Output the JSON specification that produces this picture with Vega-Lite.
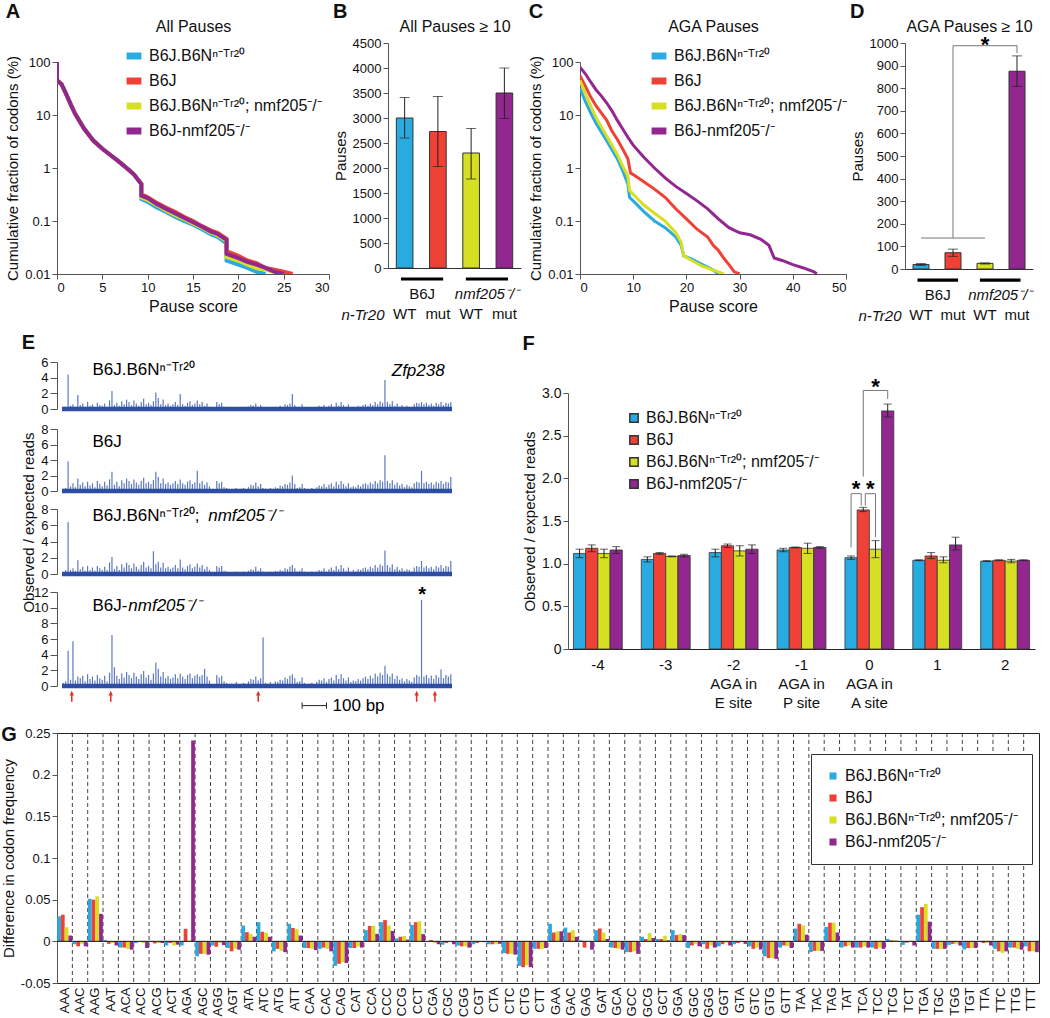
{
"$schema":"https://vega.github.io/schema/vega-lite/v6.json",
"background":"white",
"padding":{"left":0,"top":2,"right":0,"bottom":0},
"config":{"font":"Liberation Sans","view":{"stroke":null},
"axis":{"labelFontSize":13,"titleFontSize":15,"titleFontWeight":"normal","labelColor":"#111","titleColor":"#111","domainColor":"#555","tickColor":"#555","grid":false,"tickSize":5,"labelOverlap":false},
"title":{"fontWeight":"normal","fontSize":16,"color":"#111"},
"legend":{"labelFontSize":16,"labelColor":"#111","labelLimit":400}},
"datasets":{
"curvesA":[
{"g":"N","x":0,"y":100},{"g":"N","x":0,"y":45},{"g":"N","x":0.5,"y":38},{"g":"N","x":1,"y":25},{"g":"N","x":1.5,"y":16},{"g":"N","x":2,"y":10.5},{"g":"N","x":3,"y":5.5},{"g":"N","x":4,"y":3.3},{"g":"N","x":5,"y":2.3},{"g":"N","x":6,"y":1.7},{"g":"N","x":7,"y":1.25},{"g":"N","x":8,"y":0.9},{"g":"N","x":8.5,"y":0.75},{"g":"N","x":9.3,"y":0.5},{"g":"N","x":9.3,"y":0.26},{"g":"N","x":10,"y":0.23},{"g":"N","x":11,"y":0.18},{"g":"N","x":12,"y":0.15},{"g":"N","x":13,"y":0.12},{"g":"N","x":14,"y":0.1},{"g":"N","x":15,"y":0.085},{"g":"N","x":16,"y":0.07},{"g":"N","x":17,"y":0.056},{"g":"N","x":17.7,"y":0.05},{"g":"N","x":18.7,"y":0.038},{"g":"N","x":18.7,"y":0.018},{"g":"N","x":20,"y":0.015},{"g":"N","x":21,"y":0.013},{"g":"N","x":22,"y":0.011},{"g":"N","x":23,"y":0.01},
{"g":"J","x":0,"y":100},{"g":"J","x":0,"y":45},{"g":"J","x":0.5,"y":38},{"g":"J","x":1,"y":25},{"g":"J","x":1.5,"y":16},{"g":"J","x":2,"y":10.5},{"g":"J","x":3,"y":5.5},{"g":"J","x":4,"y":3.3},{"g":"J","x":5,"y":2.3},{"g":"J","x":6,"y":1.7},{"g":"J","x":7,"y":1.25},{"g":"J","x":8,"y":0.9},{"g":"J","x":8.5,"y":0.75},{"g":"J","x":9.3,"y":0.5},{"g":"J","x":9.3,"y":0.32},{"g":"J","x":10,"y":0.28},{"g":"J","x":11,"y":0.22},{"g":"J","x":12,"y":0.18},{"g":"J","x":13,"y":0.15},{"g":"J","x":14,"y":0.12},{"g":"J","x":15,"y":0.1},{"g":"J","x":16,"y":0.08},{"g":"J","x":17,"y":0.066},{"g":"J","x":17.7,"y":0.06},{"g":"J","x":18.7,"y":0.046},{"g":"J","x":18.7,"y":0.027},{"g":"J","x":20,"y":0.022},{"g":"J","x":21,"y":0.018},{"g":"J","x":22,"y":0.016},{"g":"J","x":23,"y":0.013},{"g":"J","x":24,"y":0.012},{"g":"J","x":25,"y":0.011},{"g":"J","x":26,"y":0.01},
{"g":"Nn","x":0,"y":100},{"g":"Nn","x":0,"y":45},{"g":"Nn","x":0.5,"y":38},{"g":"Nn","x":1,"y":25},{"g":"Nn","x":1.5,"y":16},{"g":"Nn","x":2,"y":10.5},{"g":"Nn","x":3,"y":5.5},{"g":"Nn","x":4,"y":3.3},{"g":"Nn","x":5,"y":2.3},{"g":"Nn","x":6,"y":1.7},{"g":"Nn","x":7,"y":1.25},{"g":"Nn","x":8,"y":0.9},{"g":"Nn","x":8.5,"y":0.75},{"g":"Nn","x":9.3,"y":0.5},{"g":"Nn","x":9.3,"y":0.28},{"g":"Nn","x":10,"y":0.25},{"g":"Nn","x":11,"y":0.2},{"g":"Nn","x":12,"y":0.16},{"g":"Nn","x":13,"y":0.13},{"g":"Nn","x":14,"y":0.11},{"g":"Nn","x":15,"y":0.09},{"g":"Nn","x":16,"y":0.075},{"g":"Nn","x":17,"y":0.06},{"g":"Nn","x":17.7,"y":0.054},{"g":"Nn","x":18.7,"y":0.042},{"g":"Nn","x":18.7,"y":0.021},{"g":"Nn","x":20,"y":0.018},{"g":"Nn","x":21,"y":0.015},{"g":"Nn","x":22,"y":0.013},{"g":"Nn","x":23,"y":0.012},{"g":"Nn","x":24,"y":0.011},{"g":"Nn","x":24.5,"y":0.01},
{"g":"Jn","x":0,"y":100},{"g":"Jn","x":0,"y":45},{"g":"Jn","x":0.5,"y":38},{"g":"Jn","x":1,"y":25},{"g":"Jn","x":1.5,"y":16},{"g":"Jn","x":2,"y":10.5},{"g":"Jn","x":3,"y":5.5},{"g":"Jn","x":4,"y":3.3},{"g":"Jn","x":5,"y":2.3},{"g":"Jn","x":6,"y":1.7},{"g":"Jn","x":7,"y":1.25},{"g":"Jn","x":8,"y":0.9},{"g":"Jn","x":8.5,"y":0.75},{"g":"Jn","x":9.3,"y":0.5},{"g":"Jn","x":9.3,"y":0.3},{"g":"Jn","x":10,"y":0.27},{"g":"Jn","x":11,"y":0.21},{"g":"Jn","x":12,"y":0.17},{"g":"Jn","x":13,"y":0.14},{"g":"Jn","x":14,"y":0.115},{"g":"Jn","x":15,"y":0.095},{"g":"Jn","x":16,"y":0.078},{"g":"Jn","x":17,"y":0.063},{"g":"Jn","x":17.7,"y":0.057},{"g":"Jn","x":18.7,"y":0.044},{"g":"Jn","x":18.7,"y":0.024},{"g":"Jn","x":20,"y":0.02},{"g":"Jn","x":21,"y":0.017},{"g":"Jn","x":22,"y":0.015},{"g":"Jn","x":23,"y":0.013},{"g":"Jn","x":24,"y":0.011},{"g":"Jn","x":25,"y":0.01}],
"curvesC":[
{"g":"N","x":0,"y":32},{"g":"N","x":1,"y":18},{"g":"N","x":2,"y":11},{"g":"N","x":3,"y":7},{"g":"N","x":4,"y":4.8},{"g":"N","x":5,"y":3.3},{"g":"N","x":6,"y":2.2},{"g":"N","x":7,"y":1.5},{"g":"N","x":8,"y":0.9},{"g":"N","x":9,"y":0.5},{"g":"N","x":9.3,"y":0.28},{"g":"N","x":10,"y":0.24},{"g":"N","x":12,"y":0.15},{"g":"N","x":14,"y":0.1},{"g":"N","x":16,"y":0.075},{"g":"N","x":18,"y":0.05},{"g":"N","x":19,"y":0.035},{"g":"N","x":19.5,"y":0.022},{"g":"N","x":21,"y":0.019},{"g":"N","x":23,"y":0.015},{"g":"N","x":25,"y":0.012},{"g":"N","x":26,"y":0.01},
{"g":"J","x":0,"y":55},{"g":"J","x":1,"y":35},{"g":"J","x":2,"y":22},{"g":"J","x":3,"y":15},{"g":"J","x":4,"y":11},{"g":"J","x":5,"y":8},{"g":"J","x":6,"y":5},{"g":"J","x":7,"y":3.5},{"g":"J","x":8,"y":2.3},{"g":"J","x":9,"y":1.5},{"g":"J","x":9.5,"y":0.8},{"g":"J","x":10,"y":0.75},{"g":"J","x":12,"y":0.55},{"g":"J","x":14,"y":0.4},{"g":"J","x":16,"y":0.28},{"g":"J","x":18,"y":0.17},{"g":"J","x":20,"y":0.11},{"g":"J","x":22,"y":0.07},{"g":"J","x":24,"y":0.05},{"g":"J","x":25,"y":0.035},{"g":"J","x":26,"y":0.028},{"g":"J","x":27,"y":0.02},{"g":"J","x":28,"y":0.015},{"g":"J","x":29,"y":0.011},{"g":"J","x":30,"y":0.01},
{"g":"Nn","x":0,"y":45},{"g":"Nn","x":1,"y":25},{"g":"Nn","x":2,"y":15},{"g":"Nn","x":3,"y":9},{"g":"Nn","x":4,"y":6},{"g":"Nn","x":5,"y":4},{"g":"Nn","x":6,"y":2.7},{"g":"Nn","x":7,"y":1.8},{"g":"Nn","x":8,"y":1.1},{"g":"Nn","x":9,"y":0.7},{"g":"Nn","x":9.3,"y":0.38},{"g":"Nn","x":10,"y":0.32},{"g":"Nn","x":12,"y":0.2},{"g":"Nn","x":14,"y":0.14},{"g":"Nn","x":16,"y":0.1},{"g":"Nn","x":18,"y":0.06},{"g":"Nn","x":19,"y":0.04},{"g":"Nn","x":19.5,"y":0.022},{"g":"Nn","x":21,"y":0.018},{"g":"Nn","x":23,"y":0.014},{"g":"Nn","x":25,"y":0.012},{"g":"Nn","x":27,"y":0.01},
{"g":"Jn","x":0,"y":80},{"g":"Jn","x":1,"y":60},{"g":"Jn","x":2,"y":42},{"g":"Jn","x":3,"y":30},{"g":"Jn","x":4,"y":23},{"g":"Jn","x":5,"y":17},{"g":"Jn","x":6,"y":12},{"g":"Jn","x":7,"y":8},{"g":"Jn","x":8,"y":5.5},{"g":"Jn","x":9,"y":3.8},{"g":"Jn","x":10,"y":2.7},{"g":"Jn","x":12,"y":1.6},{"g":"Jn","x":14,"y":1},{"g":"Jn","x":16,"y":0.65},{"g":"Jn","x":18,"y":0.45},{"g":"Jn","x":20,"y":0.33},{"g":"Jn","x":22,"y":0.24},{"g":"Jn","x":24,"y":0.17},{"g":"Jn","x":26,"y":0.11},{"g":"Jn","x":28,"y":0.075},{"g":"Jn","x":30,"y":0.06},{"g":"Jn","x":32,"y":0.055},{"g":"Jn","x":34,"y":0.045},{"g":"Jn","x":35.5,"y":0.035},{"g":"Jn","x":36.5,"y":0.02},{"g":"Jn","x":38,"y":0.018},{"g":"Jn","x":40,"y":0.015},{"g":"Jn","x":42,"y":0.013},{"g":"Jn","x":44,"y":0.011},{"g":"Jn","x":44.5,"y":0.01}],
"pausesB":[{"g":"N","v":3000,"lo":2600,"hi":3410},{"g":"J","v":2730,"lo":2030,"hi":3430},{"g":"Nn","v":2300,"lo":1780,"hi":2790},{"g":"Jn","v":3500,"lo":2990,"hi":4000}],
"pausesD":[{"g":"N","v":20,"lo":16,"hi":24},{"g":"J","v":72,"lo":56,"hi":88},{"g":"Nn","v":25,"lo":22,"hi":27},{"g":"Jn","v":875,"lo":808,"hi":943}],
"bracketD":[{"g":"N","g2":"Nn","y":137,"y2":137},{"g":"J","g2":"J","y":137,"y2":988},{"g":"J","g2":"Jn","y":988,"y2":988},{"g":"Jn","g2":"Jn","y":955,"y2":988}],
"fdata":[
{"pos":"-4","g":"N","v":1.12,"lo":1.07,"hi":1.17},{"pos":"-4","g":"J","v":1.18,"lo":1.14,"hi":1.22},{"pos":"-4","g":"Nn","v":1.12,"lo":1.07,"hi":1.17},{"pos":"-4","g":"Jn","v":1.16,"lo":1.12,"hi":1.2},
{"pos":"-3","g":"N","v":1.05,"lo":1.02,"hi":1.08},{"pos":"-3","g":"J","v":1.12,"lo":1.11,"hi":1.13},{"pos":"-3","g":"Nn","v":1.085,"lo":1.08,"hi":1.09},{"pos":"-3","g":"Jn","v":1.095,"lo":1.08,"hi":1.11},
{"pos":"-2","g":"N","v":1.13,"lo":1.08,"hi":1.17},{"pos":"-2","g":"J","v":1.21,"lo":1.19,"hi":1.23},{"pos":"-2","g":"Nn","v":1.15,"lo":1.09,"hi":1.21},{"pos":"-2","g":"Jn","v":1.17,"lo":1.12,"hi":1.22},
{"pos":"-1","g":"N","v":1.16,"lo":1.14,"hi":1.18},{"pos":"-1","g":"J","v":1.19,"lo":1.185,"hi":1.195},{"pos":"-1","g":"Nn","v":1.18,"lo":1.12,"hi":1.24},{"pos":"-1","g":"Jn","v":1.19,"lo":1.18,"hi":1.2},
{"pos":"0","g":"N","v":1.07,"lo":1.05,"hi":1.09},{"pos":"0","g":"J","v":1.63,"lo":1.61,"hi":1.66},{"pos":"0","g":"Nn","v":1.17,"lo":1.07,"hi":1.27},{"pos":"0","g":"Jn","v":2.79,"lo":2.72,"hi":2.87},
{"pos":"1","g":"N","v":1.04,"lo":1.035,"hi":1.045},{"pos":"1","g":"J","v":1.09,"lo":1.06,"hi":1.13},{"pos":"1","g":"Nn","v":1.04,"lo":1.01,"hi":1.08},{"pos":"1","g":"Jn","v":1.22,"lo":1.16,"hi":1.31},
{"pos":"2","g":"N","v":1.03,"lo":1.025,"hi":1.035},{"pos":"2","g":"J","v":1.04,"lo":1.035,"hi":1.045},{"pos":"2","g":"Nn","v":1.03,"lo":1.01,"hi":1.05},{"pos":"2","g":"Jn","v":1.04,"lo":1.035,"hi":1.045}],
"bracketF":[
{"kind":"line","x":4.17,"x2":4.17,"y":1.19,"y2":1.82},{"kind":"line","x":4.17,"x2":4.32,"y":1.82,"y2":1.82},{"kind":"line","x":4.32,"x2":4.32,"y":1.68,"y2":1.82},
{"kind":"line","x":4.38,"x2":4.38,"y":1.68,"y2":1.82},{"kind":"line","x":4.38,"x2":4.53,"y":1.82,"y2":1.82},{"kind":"line","x":4.53,"x2":4.53,"y":1.31,"y2":1.82},
{"kind":"line","x":4.35,"x2":4.35,"y":2.02,"y2":3.03},{"kind":"line","x":4.35,"x2":4.71,"y":3.03,"y2":3.03},{"kind":"line","x":4.71,"x2":4.71,"y":2.93,"y2":3.03},
{"kind":"star","x":4.245,"y":1.79},{"kind":"star","x":4.455,"y":1.79},{"kind":"star","x":4.53,"y":2.99}],
"tracks":[
{"p":5,"a":0.2,"b":0.3,"c":0.2,"d":0.4},{"p":15,"a":0.3,"b":0.4,"c":0.5,"d":0.6},{"p":25,"a":4.4,"b":3.8,"c":6.4,"d":4.5},{"p":35,"a":0.4,"b":0.6,"c":0.5,"d":0.8},{"p":45,"a":0.6,"b":1.0,"c":0.7,"d":5.7},{"p":55,"a":0.3,"b":0.5,"c":0.4,"d":0.7},{"p":65,"a":1.8,"b":1.6,"c":1.7,"d":1.2},{"p":75,"a":0.5,"b":0.8,"c":0.6,"d":1.0},{"p":85,"a":0.7,"b":1.1,"c":0.9,"d":1.3},{"p":95,"a":0.3,"b":0.6,"c":0.4,"d":0.6},
{"p":105,"a":0.9,"b":1.2,"c":1.0,"d":1.5},{"p":115,"a":0.4,"b":0.7,"c":0.5,"d":0.9},{"p":125,"a":0.6,"b":1.0,"c":0.8,"d":1.2},{"p":135,"a":0.3,"b":0.5,"c":0.4,"d":0.7},{"p":145,"a":0.8,"b":1.3,"c":1.0,"d":1.4},{"p":155,"a":0.5,"b":0.9,"c":0.7,"d":1.0},{"p":165,"a":0.4,"b":0.6,"c":0.5,"d":0.8},{"p":175,"a":0.7,"b":1.2,"c":0.9,"d":1.3},{"p":185,"a":0.3,"b":0.7,"c":0.5,"d":0.6},{"p":195,"a":1.1,"b":1.5,"c":1.4,"d":1.7},
{"p":205,"a":2.3,"b":2.5,"c":2.1,"d":6.5},{"p":215,"a":0.5,"b":0.8,"c":0.6,"d":2.4},{"p":225,"a":0.8,"b":1.2,"c":1.0,"d":1.3},{"p":235,"a":0.4,"b":0.6,"c":0.5,"d":0.9},{"p":245,"a":1.0,"b":1.4,"c":1.2,"d":1.6},{"p":255,"a":0.6,"b":1.0,"c":0.8,"d":1.1},{"p":265,"a":1.2,"b":1.6,"c":1.4,"d":1.8},{"p":275,"a":0.9,"b":1.3,"c":1.1,"d":1.4},{"p":285,"a":0.5,"b":0.9,"c":0.7,"d":1.0},{"p":295,"a":1.1,"b":1.5,"c":1.3,"d":1.7},
{"p":305,"a":0.7,"b":1.1,"c":0.9,"d":1.2},{"p":315,"a":0.4,"b":0.8,"c":0.6,"d":0.9},{"p":325,"a":0.9,"b":1.3,"c":1.1,"d":1.5},{"p":335,"a":1.3,"b":1.7,"c":1.5,"d":1.9},{"p":345,"a":0.6,"b":1.0,"c":0.8,"d":1.1},{"p":355,"a":0.8,"b":1.2,"c":1.0,"d":1.4},{"p":365,"a":0.5,"b":0.9,"c":0.7,"d":0.8},{"p":375,"a":1.0,"b":1.4,"c":2.8,"d":1.6},{"p":385,"a":2.1,"b":2.5,"c":1.2,"d":3.0},{"p":395,"a":1.4,"b":1.8,"c":1.5,"d":2.2},
{"p":405,"a":0.6,"b":1.0,"c":0.8,"d":1.2},{"p":415,"a":1.2,"b":1.6,"c":1.4,"d":1.8},{"p":425,"a":0.5,"b":0.9,"c":0.7,"d":1.0},{"p":435,"a":0.7,"b":1.1,"c":0.9,"d":1.3},{"p":445,"a":0.4,"b":0.8,"c":0.6,"d":0.9},{"p":455,"a":0.6,"b":1.0,"c":0.8,"d":1.1},{"p":465,"a":0.9,"b":1.3,"c":1.1,"d":1.5},{"p":475,"a":0.5,"b":0.9,"c":0.7,"d":1.0},{"p":485,"a":1.9,"b":1.5,"c":1.8,"d":1.6},{"p":495,"a":0.6,"b":1.0,"c":0.8,"d":1.2},
{"p":505,"a":0.4,"b":0.8,"c":0.6,"d":0.9},{"p":515,"a":0.8,"b":1.2,"c":1.0,"d":1.4},{"p":525,"a":1.0,"b":1.4,"c":1.2,"d":1.6},{"p":535,"a":0.5,"b":0.9,"c":0.7,"d":1.0},{"p":545,"a":0.7,"b":1.1,"c":0.9,"d":1.3},{"p":555,"a":1.1,"b":2.6,"c":1.3,"d":1.5},{"p":565,"a":0.6,"b":1.0,"c":0.8,"d":1.2},{"p":575,"a":0.9,"b":1.3,"c":1.1,"d":1.4},{"p":585,"a":0.4,"b":0.8,"c":0.6,"d":2.2},{"p":595,"a":0.7,"b":1.1,"c":0.9,"d":1.2},
{"p":605,"a":0.3,"b":0.6,"c":0.5,"d":0.7},{"p":615,"a":0.1,"b":0.2,"c":0.1,"d":0.2},{"p":625,"a":0.1,"b":0.2,"c":0.1,"d":0.2},{"p":635,"a":0.9,"b":1.3,"c":1.0,"d":1.4},{"p":645,"a":0.6,"b":1.0,"c":0.8,"d":1.1},{"p":655,"a":0.8,"b":1.2,"c":1.0,"d":1.3},{"p":665,"a":0.3,"b":0.5,"c":0.4,"d":0.6},{"p":675,"a":0.2,"b":0.4,"c":0.3,"d":0.4},{"p":685,"a":0.1,"b":0.2,"c":0.1,"d":0.2},{"p":695,"a":0.1,"b":0.2,"c":0.2,"d":0.3},
{"p":705,"a":0.1,"b":0.3,"c":0.2,"d":0.2},{"p":715,"a":0.2,"b":0.4,"c":0.3,"d":0.5},{"p":725,"a":0.1,"b":0.2,"c":0.1,"d":0.2},{"p":735,"a":0.1,"b":0.3,"c":0.2,"d":0.3},{"p":745,"a":0.2,"b":0.4,"c":0.3,"d":0.4},{"p":755,"a":0.1,"b":0.2,"c":0.2,"d":0.3},{"p":765,"a":0.3,"b":0.5,"c":0.4,"d":0.6},{"p":775,"a":0.5,"b":0.8,"c":0.6,"d":0.9},{"p":785,"a":0.4,"b":0.7,"c":0.5,"d":0.8},{"p":795,"a":0.7,"b":1.1,"c":0.9,"d":1.2},
{"p":805,"a":0.3,"b":0.6,"c":0.4,"d":0.7},{"p":815,"a":0.5,"b":0.9,"c":0.7,"d":1.0},{"p":825,"a":0.2,"b":0.4,"c":0.3,"d":6.2},{"p":835,"a":0.1,"b":0.3,"c":0.2,"d":0.4},{"p":845,"a":0.1,"b":0.2,"c":0.1,"d":0.3},{"p":855,"a":0.2,"b":0.4,"c":0.3,"d":0.5},{"p":865,"a":0.1,"b":0.2,"c":0.2,"d":0.3},{"p":875,"a":0.3,"b":0.5,"c":0.4,"d":0.6},{"p":885,"a":0.2,"b":0.4,"c":0.3,"d":0.5},{"p":895,"a":0.4,"b":0.7,"c":0.5,"d":0.8},
{"p":905,"a":0.3,"b":0.6,"c":0.4,"d":0.7},{"p":915,"a":0.6,"b":0.9,"c":0.7,"d":1.1},{"p":925,"a":0.5,"b":0.8,"c":0.6,"d":0.9},{"p":935,"a":0.7,"b":1.1,"c":0.9,"d":1.3},{"p":945,"a":1.9,"b":2.0,"c":1.1,"d":1.5},{"p":955,"a":0.5,"b":0.9,"c":0.7,"d":1.0},{"p":965,"a":0.2,"b":0.4,"c":0.3,"d":0.5},{"p":975,"a":0.3,"b":0.5,"c":0.4,"d":0.6},{"p":985,"a":0.6,"b":0.9,"c":0.7,"d":1.1},{"p":995,"a":0.2,"b":0.4,"c":0.3,"d":0.4},
{"p":1005,"a":0.1,"b":0.2,"c":0.1,"d":0.2},{"p":1015,"a":0.1,"b":0.2,"c":0.2,"d":0.3},{"p":1025,"a":0.2,"b":0.4,"c":0.3,"d":0.4},{"p":1035,"a":0.1,"b":0.2,"c":0.1,"d":0.2},{"p":1045,"a":0.2,"b":0.5,"c":0.3,"d":0.5},{"p":1055,"a":0.4,"b":0.7,"c":0.5,"d":0.8},{"p":1065,"a":0.3,"b":0.6,"c":0.4,"d":0.7},{"p":1075,"a":0.5,"b":0.9,"c":0.7,"d":1.0},{"p":1085,"a":0.2,"b":0.5,"c":0.3,"d":0.5},{"p":1095,"a":0.4,"b":0.8,"c":0.6,"d":0.9},
{"p":1105,"a":0.6,"b":1.0,"c":0.8,"d":1.1},{"p":1115,"a":0.3,"b":0.6,"c":0.5,"d":0.7},{"p":1125,"a":0.8,"b":1.2,"c":1.0,"d":1.4},{"p":1135,"a":0.4,"b":0.8,"c":0.6,"d":0.9},{"p":1145,"a":0.9,"b":1.3,"c":1.1,"d":1.5},{"p":1155,"a":0.5,"b":0.9,"c":0.7,"d":1.0},{"p":1165,"a":0.3,"b":0.6,"c":0.4,"d":0.7},{"p":1175,"a":0.6,"b":1.0,"c":0.8,"d":1.1},{"p":1185,"a":0.2,"b":0.5,"c":0.3,"d":0.5},{"p":1195,"a":0.3,"b":0.6,"c":0.5,"d":0.7},
{"p":1205,"a":0.2,"b":0.5,"c":0.3,"d":0.6},{"p":1215,"a":0.4,"b":0.8,"c":0.6,"d":0.9},{"p":1225,"a":0.3,"b":0.6,"c":0.5,"d":0.7},{"p":1235,"a":0.5,"b":0.9,"c":0.7,"d":1.0},{"p":1245,"a":0.6,"b":1.0,"c":0.8,"d":1.2},{"p":1255,"a":0.4,"b":0.8,"c":0.6,"d":0.9},{"p":1265,"a":0.7,"b":1.1,"c":0.9,"d":1.3},{"p":1275,"a":0.5,"b":0.9,"c":0.7,"d":1.0},{"p":1285,"a":0.9,"b":1.3,"c":1.1,"d":1.6},{"p":1295,"a":0.6,"b":1.0,"c":0.8,"d":1.2},
{"p":1305,"a":1.0,"b":1.4,"c":1.2,"d":1.7},{"p":1315,"a":0.8,"b":1.2,"c":1.0,"d":1.4},{"p":1325,"a":3.7,"b":4.6,"c":2.9,"d":2.6},{"p":1335,"a":0.9,"b":1.3,"c":1.1,"d":1.5},{"p":1345,"a":0.6,"b":1.0,"c":0.8,"d":1.2},{"p":1355,"a":1.0,"b":1.4,"c":1.2,"d":1.6},{"p":1365,"a":0.4,"b":0.8,"c":0.6,"d":0.9},{"p":1375,"a":0.7,"b":1.1,"c":0.9,"d":1.3},{"p":1385,"a":0.3,"b":0.7,"c":0.5,"d":0.8},{"p":1395,"a":0.5,"b":0.9,"c":0.7,"d":1.0},
{"p":1405,"a":0.2,"b":0.5,"c":0.4,"d":0.6},{"p":1415,"a":0.4,"b":0.8,"c":0.6,"d":0.9},{"p":1425,"a":0.3,"b":0.6,"c":0.5,"d":0.7},{"p":1435,"a":0.2,"b":0.5,"c":0.3,"d":0.5},{"p":1445,"a":0.6,"b":1.0,"c":0.8,"d":1.1},{"p":1455,"a":0.8,"b":1.2,"c":1.0,"d":1.4},{"p":1465,"a":0.7,"b":1.1,"c":0.9,"d":1.2},{"p":1475,"a":0.9,"b":2.6,"c":1.6,"d":11.0},{"p":1485,"a":0.6,"b":1.0,"c":0.8,"d":1.2},{"p":1495,"a":0.8,"b":1.2,"c":1.0,"d":1.4},
{"p":1505,"a":0.5,"b":0.9,"c":0.7,"d":1.0},{"p":1515,"a":0.7,"b":1.1,"c":0.9,"d":1.3},{"p":1525,"a":0.4,"b":0.8,"c":0.6,"d":0.9},{"p":1535,"a":0.8,"b":1.2,"c":1.0,"d":1.4},{"p":1545,"a":0.6,"b":1.0,"c":0.8,"d":1.1},{"p":1555,"a":0.9,"b":1.3,"c":1.1,"d":2.1},{"p":1565,"a":0.5,"b":0.9,"c":0.7,"d":1.0},{"p":1575,"a":0.8,"b":1.2,"c":1.0,"d":1.4},{"p":1585,"a":0.7,"b":1.1,"c":0.9,"d":1.2},{"p":1595,"a":0.9,"b":1.8,"c":1.6,"d":1.5}],
"gdata":[
{"c":"AAA","g":"N","v":0.03},{"c":"AAA","g":"J","v":0.032},{"c":"AAA","g":"Nn","v":0.017},{"c":"AAA","g":"Jn","v":0.007},
{"c":"AAC","g":"N","v":-0.0035},{"c":"AAC","g":"J","v":-0.006},{"c":"AAC","g":"Nn","v":-0.003},{"c":"AAC","g":"Jn","v":-0.006},
{"c":"AAG","g":"N","v":0.051},{"c":"AAG","g":"J","v":0.05},{"c":"AAG","g":"Nn","v":0.054},{"c":"AAG","g":"Jn","v":0.033},
{"c":"AAT","g":"N","v":0.0015},{"c":"AAT","g":"J","v":-0.003},{"c":"AAT","g":"Nn","v":-0.002},{"c":"AAT","g":"Jn","v":-0.005},
{"c":"ACA","g":"N","v":-0.0075},{"c":"ACA","g":"J","v":-0.0075},{"c":"ACA","g":"Nn","v":-0.009},{"c":"ACA","g":"Jn","v":-0.01},
{"c":"ACC","g":"N","v":-0.002},{"c":"ACC","g":"J","v":0.0003},{"c":"ACC","g":"Nn","v":-0.002},{"c":"ACC","g":"Jn","v":-0.008},
{"c":"ACG","g":"N","v":-0.001},{"c":"ACG","g":"J","v":-0.0025},{"c":"ACG","g":"Nn","v":-0.002},{"c":"ACG","g":"Jn","v":-0.002},
{"c":"ACT","g":"N","v":-0.005},{"c":"ACT","g":"J","v":-0.002},{"c":"ACT","g":"Nn","v":-0.005},{"c":"ACT","g":"Jn","v":-0.004},
{"c":"AGA","g":"N","v":-0.005},{"c":"AGA","g":"J","v":0.015},{"c":"AGA","g":"Nn","v":0.001},{"c":"AGA","g":"Jn","v":0.241},
{"c":"AGC","g":"N","v":-0.018},{"c":"AGC","g":"J","v":-0.015},{"c":"AGC","g":"Nn","v":-0.015},{"c":"AGC","g":"Jn","v":-0.016},
{"c":"AGG","g":"N","v":-0.005},{"c":"AGG","g":"J","v":-0.0065},{"c":"AGG","g":"Nn","v":-0.002},{"c":"AGG","g":"Jn","v":-0.0045},
{"c":"AGT","g":"N","v":-0.008},{"c":"AGT","g":"J","v":-0.012},{"c":"AGT","g":"Nn","v":-0.009},{"c":"AGT","g":"Jn","v":-0.01},
{"c":"ATA","g":"N","v":0.019},{"c":"ATA","g":"J","v":0.011},{"c":"ATA","g":"Nn","v":0.009},{"c":"ATA","g":"Jn","v":0.0055},
{"c":"ATC","g":"N","v":0.023},{"c":"ATC","g":"J","v":0.0115},{"c":"ATC","g":"Nn","v":0.0105},{"c":"ATC","g":"Jn","v":0.0055},
{"c":"ATG","g":"N","v":-0.012},{"c":"ATG","g":"J","v":-0.009},{"c":"ATG","g":"Nn","v":-0.0115},{"c":"ATG","g":"Jn","v":-0.013},
{"c":"ATT","g":"N","v":0.021},{"c":"ATT","g":"J","v":0.016},{"c":"ATT","g":"Nn","v":0.0145},{"c":"ATT","g":"Jn","v":0.007},
{"c":"CAA","g":"N","v":-0.008},{"c":"CAA","g":"J","v":-0.008},{"c":"CAA","g":"Nn","v":-0.009},{"c":"CAA","g":"Jn","v":-0.0105},
{"c":"CAC","g":"N","v":-0.009},{"c":"CAC","g":"J","v":-0.0075},{"c":"CAC","g":"Nn","v":-0.009},{"c":"CAC","g":"Jn","v":-0.012},
{"c":"CAG","g":"N","v":-0.0295},{"c":"CAG","g":"J","v":-0.027},{"c":"CAG","g":"Nn","v":-0.025},{"c":"CAG","g":"Jn","v":-0.026},
{"c":"CAT","g":"N","v":-0.008},{"c":"CAT","g":"J","v":-0.008},{"c":"CAT","g":"Nn","v":-0.006},{"c":"CAT","g":"Jn","v":-0.0075},
{"c":"CCA","g":"N","v":0.0135},{"c":"CCA","g":"J","v":0.0185},{"c":"CCA","g":"Nn","v":0.0185},{"c":"CCA","g":"Jn","v":0.009},
{"c":"CCC","g":"N","v":0.023},{"c":"CCC","g":"J","v":0.0255},{"c":"CCC","g":"Nn","v":0.019},{"c":"CCC","g":"Jn","v":0.0125},
{"c":"CCG","g":"N","v":0.0035},{"c":"CCG","g":"J","v":0.0055},{"c":"CCG","g":"Nn","v":0.0063},{"c":"CCG","g":"Jn","v":0.002},
{"c":"CCT","g":"N","v":0.0197},{"c":"CCT","g":"J","v":0.023},{"c":"CCT","g":"Nn","v":0.024},{"c":"CCT","g":"Jn","v":0.0087},
{"c":"CGA","g":"N","v":0.0004},{"c":"CGA","g":"J","v":0.0015},{"c":"CGA","g":"Nn","v":-0.002},{"c":"CGA","g":"Jn","v":-0.0035},
{"c":"CGC","g":"N","v":-0.004},{"c":"CGC","g":"J","v":-0.002},{"c":"CGC","g":"Nn","v":-0.0005},{"c":"CGC","g":"Jn","v":-0.0035},
{"c":"CGG","g":"N","v":-0.005},{"c":"CGG","g":"J","v":-0.006},{"c":"CGG","g":"Nn","v":-0.006},{"c":"CGG","g":"Jn","v":-0.0075},
{"c":"CGT","g":"N","v":-0.0035},{"c":"CGT","g":"J","v":-0.002},{"c":"CGT","g":"Nn","v":-0.001},{"c":"CGT","g":"Jn","v":-0.001},
{"c":"CTA","g":"N","v":-0.0035},{"c":"CTA","g":"J","v":-0.0035},{"c":"CTA","g":"Nn","v":-0.0035},{"c":"CTA","g":"Jn","v":-0.003},
{"c":"CTC","g":"N","v":-0.014},{"c":"CTC","g":"J","v":-0.015},{"c":"CTC","g":"Nn","v":-0.015},{"c":"CTC","g":"Jn","v":-0.016},
{"c":"CTG","g":"N","v":-0.0295},{"c":"CTG","g":"J","v":-0.031},{"c":"CTG","g":"Nn","v":-0.0287},{"c":"CTG","g":"Jn","v":-0.031},
{"c":"CTT","g":"N","v":-0.009},{"c":"CTT","g":"J","v":-0.009},{"c":"CTT","g":"Nn","v":-0.009},{"c":"CTT","g":"Jn","v":-0.008},
{"c":"GAA","g":"N","v":0.021},{"c":"GAA","g":"J","v":0.0106},{"c":"GAA","g":"Nn","v":0.012},{"c":"GAA","g":"Jn","v":0.012},
{"c":"GAC","g":"N","v":0.0165},{"c":"GAC","g":"J","v":0.0106},{"c":"GAC","g":"Nn","v":0.0134},{"c":"GAC","g":"Jn","v":0.0055},
{"c":"GAG","g":"N","v":0.0012},{"c":"GAG","g":"J","v":-0.0075},{"c":"GAG","g":"Nn","v":0.0004},{"c":"GAG","g":"Jn","v":-0.01},
{"c":"GAT","g":"N","v":0.0134},{"c":"GAT","g":"J","v":0.0154},{"c":"GAT","g":"Nn","v":0.0106},{"c":"GAT","g":"Jn","v":0.0028},
{"c":"GCA","g":"N","v":-0.0075},{"c":"GCA","g":"J","v":-0.008},{"c":"GCA","g":"Nn","v":-0.009},{"c":"GCA","g":"Jn","v":-0.01},
{"c":"GCC","g":"N","v":-0.013},{"c":"GCC","g":"J","v":-0.013},{"c":"GCC","g":"Nn","v":-0.012},{"c":"GCC","g":"Jn","v":-0.015},
{"c":"GCG","g":"N","v":0.0055},{"c":"GCG","g":"J","v":0.0028},{"c":"GCG","g":"Nn","v":0.0098},{"c":"GCG","g":"Jn","v":0.004},
{"c":"GCT","g":"N","v":0.0028},{"c":"GCT","g":"J","v":0.0028},{"c":"GCT","g":"Nn","v":0.0067},{"c":"GCT","g":"Jn","v":0.0012},
{"c":"GGA","g":"N","v":0.0134},{"c":"GGA","g":"J","v":0.0075},{"c":"GGA","g":"Nn","v":0.0087},{"c":"GGA","g":"Jn","v":0.0075},
{"c":"GGC","g":"N","v":-0.008},{"c":"GGC","g":"J","v":-0.005},{"c":"GGC","g":"Nn","v":-0.0035},{"c":"GGC","g":"Jn","v":-0.006},
{"c":"GGG","g":"N","v":-0.0035},{"c":"GGG","g":"J","v":-0.009},{"c":"GGG","g":"Nn","v":-0.005},{"c":"GGG","g":"Jn","v":-0.0075},
{"c":"GGT","g":"N","v":-0.006},{"c":"GGT","g":"J","v":-0.0035},{"c":"GGT","g":"Nn","v":-0.002},{"c":"GGT","g":"Jn","v":-0.005},
{"c":"GTA","g":"N","v":-0.0035},{"c":"GTA","g":"J","v":-0.002},{"c":"GTA","g":"Nn","v":-0.001},{"c":"GTA","g":"Jn","v":-0.003},
{"c":"GTC","g":"N","v":-0.006},{"c":"GTC","g":"J","v":-0.009},{"c":"GTC","g":"Nn","v":-0.0075},{"c":"GTC","g":"Jn","v":-0.0098},
{"c":"GTG","g":"N","v":-0.018},{"c":"GTG","g":"J","v":-0.02},{"c":"GTG","g":"Nn","v":-0.02},{"c":"GTG","g":"Jn","v":-0.021},
{"c":"GTT","g":"N","v":-0.0075},{"c":"GTT","g":"J","v":-0.005},{"c":"GTT","g":"Nn","v":-0.006},{"c":"GTT","g":"Jn","v":-0.008},
{"c":"TAA","g":"N","v":0.0154},{"c":"TAA","g":"J","v":0.021},{"c":"TAA","g":"Nn","v":0.019},{"c":"TAA","g":"Jn","v":0.008},
{"c":"TAC","g":"N","v":-0.013},{"c":"TAC","g":"J","v":-0.0115},{"c":"TAC","g":"Nn","v":-0.0115},{"c":"TAC","g":"Jn","v":-0.0115},
{"c":"TAG","g":"N","v":0.0173},{"c":"TAG","g":"J","v":0.0224},{"c":"TAG","g":"Nn","v":0.0224},{"c":"TAG","g":"Jn","v":0.0106},
{"c":"TAT","g":"N","v":-0.0075},{"c":"TAT","g":"J","v":-0.006},{"c":"TAT","g":"Nn","v":-0.005},{"c":"TAT","g":"Jn","v":-0.0075},
{"c":"TCA","g":"N","v":-0.0075},{"c":"TCA","g":"J","v":-0.0075},{"c":"TCA","g":"Nn","v":-0.006},{"c":"TCA","g":"Jn","v":-0.0075},
{"c":"TCC","g":"N","v":-0.0075},{"c":"TCC","g":"J","v":-0.009},{"c":"TCC","g":"Nn","v":-0.0075},{"c":"TCC","g":"Jn","v":-0.009},
{"c":"TCG","g":"N","v":0.0028},{"c":"TCG","g":"J","v":0.0012},{"c":"TCG","g":"Nn","v":0.0016},{"c":"TCG","g":"Jn","v":0.0004},
{"c":"TCT","g":"N","v":-0.0043},{"c":"TCT","g":"J","v":-0.0016},{"c":"TCT","g":"Nn","v":-0.001},{"c":"TCT","g":"Jn","v":-0.005},
{"c":"TGA","g":"N","v":0.032},{"c":"TGA","g":"J","v":0.041},{"c":"TGA","g":"Nn","v":0.045},{"c":"TGA","g":"Jn","v":0.0236},
{"c":"TGC","g":"N","v":-0.009},{"c":"TGC","g":"J","v":-0.009},{"c":"TGC","g":"Nn","v":-0.009},{"c":"TGC","g":"Jn","v":-0.009},
{"c":"TGG","g":"N","v":-0.0043},{"c":"TGG","g":"J","v":-0.003},{"c":"TGG","g":"Nn","v":-0.003},{"c":"TGG","g":"Jn","v":-0.005},
{"c":"TGT","g":"N","v":-0.0098},{"c":"TGT","g":"J","v":-0.008},{"c":"TGT","g":"Nn","v":-0.008},{"c":"TGT","g":"Jn","v":-0.008},
{"c":"TTA","g":"N","v":-0.001},{"c":"TTA","g":"J","v":-0.002},{"c":"TTA","g":"Nn","v":-0.002},{"c":"TTA","g":"Jn","v":-0.005},
{"c":"TTC","g":"N","v":-0.009},{"c":"TTC","g":"J","v":-0.012},{"c":"TTC","g":"Nn","v":-0.0138},{"c":"TTC","g":"Jn","v":-0.012},
{"c":"TTG","g":"N","v":-0.0075},{"c":"TTG","g":"J","v":-0.0075},{"c":"TTG","g":"Nn","v":-0.009},{"c":"TTG","g":"Jn","v":-0.01},
{"c":"TTT","g":"N","v":-0.006},{"c":"TTT","g":"J","v":-0.012},{"c":"TTT","g":"Nn","v":-0.012},{"c":"TTT","g":"Jn","v":-0.013}]
},
"spacing":10,
"resolve":{"scale":{"color":"independent","xOffset":"independent"}},
"vconcat":[
{"hconcat":[
 {"title":{"text":"A","anchor":"start","frame":"bounds","fontSize":20,"fontWeight":"bold","offset":-4},
  "width":272,"height":231,
  "layer":[
   {"data":{"name":"curvesA"},
    "mark":{"type":"line","strokeWidth":4,"clip":true},
    "encoding":{
     "x":{"field":"x","type":"quantitative","scale":{"domain":[0,30],"nice":false},"axis":{"values":[0,5,10,15,20,25,30],"title":"Pause score","titleFontSize":16}},
     "y":{"field":"y","type":"quantitative","scale":{"type":"log","domain":[0.01,100],"range":[231,19]},"axis":{"values":[0.01,0.1,1,10,100],"format":"~g","title":"Cumulative fraction of codons (%)"}},
     "color":{"field":"g","type":"nominal","scale":{"domain":["N","J","Nn","Jn"],"range":["#29abe2","#ef4136","#d7df23","#92278f"]},
      "legend":{"orient":"none","legendX":66,"legendY":2,"title":null,"symbolType":"stroke","symbolStrokeWidth":7,"symbolSize":220,"labelFontSize":16,"rowPadding":-3,"labelExpr":"datum.label=='N'?'B6J.B6Nⁿ⁻ᵀʳ²⁰':datum.label=='J'?'B6J':datum.label=='Nn'?'B6J.B6Nⁿ⁻ᵀʳ²⁰; nmf205⁻/⁻':'B6J-nmf205⁻/⁻'"}}}},
   {"data":{"values":[{}]},"mark":{"type":"text","text":""},
    "encoding":{"x":{"datum":0,"type":"quantitative","axis":{"orient":"top","title":"All Pauses","labels":false,"ticks":false,"domain":false,"titleFontSize":16,"titlePadding":9}}}}
  ],
  "resolve":{"axis":{"x":"independent"}}},
 {"title":{"text":"B","anchor":"start","frame":"bounds","fontSize":20,"fontWeight":"bold","offset":-4},
  "width":133,"height":225,
  "layer":[
   {"data":{"name":"pausesB"},
    "encoding":{"x":{"field":"g","type":"nominal","scale":{"domain":["N","J","Nn","Jn"],"paddingInner":0.5,"paddingOuter":0.25},"axis":{"orient":"bottom","labelExpr":"datum.value=='N'||datum.value=='Nn'?'WT':'mut'","labelAngle":0,"labelPadding":38,"labelFontSize":15,"ticks":false,"domainColor":"#333","title":"n-Tr20","titleFontStyle":"italic","titleFontSize":15,"titleX":-4,"titleY":46,"titleAlign":"right","titleBaseline":"middle","titleAngle":0}}},
    "layer":[
     {"mark":{"type":"bar","stroke":"#333","strokeWidth":1},"encoding":{"y":{"field":"v","type":"quantitative","title":"Pauses","scale":{"domain":[0,4500]},"axis":{"values":[0,500,1000,1500,2000,2500,3000,3500,4000,4500],"format":"d"}},"color":{"field":"g","type":"nominal","scale":{"domain":["N","J","Nn","Jn"],"range":["#29abe2","#ef4136","#d7df23","#92278f"]},"legend":null}}},
     {"mark":{"type":"rule","color":"#222"},"encoding":{"y":{"field":"lo","type":"quantitative","title":"Pauses","scale":{"domain":[0,4500]},"axis":{"values":[0,500,1000,1500,2000,2500,3000,3500,4000,4500],"format":"d"}},"y2":{"field":"hi"}}},
     {"mark":{"type":"tick","color":"#222","size":10,"thickness":1},"encoding":{"y":{"field":"lo","type":"quantitative","title":"Pauses","scale":{"domain":[0,4500]},"axis":{"values":[0,500,1000,1500,2000,2500,3000,3500,4000,4500],"format":"d"}}}},
     {"mark":{"type":"tick","color":"#222","size":10,"thickness":1},"encoding":{"y":{"field":"hi","type":"quantitative","title":"Pauses","scale":{"domain":[0,4500]},"axis":{"values":[0,500,1000,1500,2000,2500,3000,3500,4000,4500],"format":"d"}}}}
    ]},
   {"data":{"values":[{}]},"mark":{"type":"text","text":""},
    "encoding":{"x":{"datum":"t","type":"nominal","axis":{"orient":"top","title":"All Pauses ≥ 10","labels":false,"ticks":false,"domain":false,"titleFontSize":16,"titlePadding":9}}}},
   {"data":{"values":[{"grp":"a"},{"grp":"b"}]},"mark":{"type":"bar","color":"black"},
    "encoding":{"x":{"field":"grp","type":"nominal","scale":{"domain":["a","b"],"paddingInner":0.35,"paddingOuter":0.2},"axis":{"orient":"bottom","labelExpr":"datum.value=='a'?'B6J':'nmf205⁻/⁻'","labelAngle":0,"labelFontStyle":{"condition":{"test":"datum.value=='b'","value":"italic"},"value":"normal"},"labelPadding":18,"labelFontSize":15,"ticks":false,"domain":false,"title":null}},
     "y":{"datum":-190,"type":"quantitative","title":"Pauses","scale":{"domain":[0,4500]},"axis":{"values":[0,500,1000,1500,2000,2500,3000,3500,4000,4500],"format":"d"}},"y2":{"datum":-250}}}
  ],
  "resolve":{"scale":{"x":"independent"}}},
 {"title":{"text":"C","anchor":"start","frame":"bounds","fontSize":20,"fontWeight":"bold","offset":-4},
  "width":266,"height":231,
  "layer":[
   {"data":{"name":"curvesC"},
    "mark":{"type":"line","strokeWidth":3,"clip":true},
    "encoding":{
     "x":{"field":"x","type":"quantitative","scale":{"domain":[0,50],"nice":false},"axis":{"values":[0,10,20,30,40,50],"title":"Pause score","titleFontSize":16}},
     "y":{"field":"y","type":"quantitative","scale":{"type":"log","domain":[0.01,100],"range":[231,19]},"axis":{"values":[0.01,0.1,1,10,100],"format":"~g","title":"Cumulative fraction of codons (%)"}},
     "color":{"field":"g","type":"nominal","scale":{"domain":["N","J","Nn","Jn"],"range":["#29abe2","#ef4136","#d7df23","#92278f"]},
      "legend":{"orient":"none","legendX":68,"legendY":2,"title":null,"symbolType":"stroke","symbolStrokeWidth":7,"symbolSize":220,"labelFontSize":16,"rowPadding":-3,"labelExpr":"datum.label=='N'?'B6J.B6Nⁿ⁻ᵀʳ²⁰':datum.label=='J'?'B6J':datum.label=='Nn'?'B6J.B6Nⁿ⁻ᵀʳ²⁰; nmf205⁻/⁻':'B6J-nmf205⁻/⁻'"}}}},
   {"data":{"values":[{}]},"mark":{"type":"text","text":""},
    "encoding":{"x":{"datum":0,"type":"quantitative","axis":{"orient":"top","title":"AGA Pauses","labels":false,"ticks":false,"domain":false,"titleFontSize":16,"titlePadding":9}}}}
  ],
  "resolve":{"axis":{"x":"independent"}}},
 {"title":{"text":"D","anchor":"start","frame":"bounds","fontSize":20,"fontWeight":"bold","offset":-4},
  "width":128,"height":226,
  "layer":[
   {"encoding":{"x":{"field":"g","type":"nominal","scale":{"domain":["N","J","Nn","Jn"],"paddingInner":0.5,"paddingOuter":0.25},"axis":{"orient":"bottom","labelExpr":"datum.value=='N'||datum.value=='Nn'?'WT':'mut'","labelAngle":0,"labelPadding":38,"labelFontSize":15,"ticks":false,"domainColor":"#333","title":"n-Tr20","titleFontStyle":"italic","titleFontSize":15,"titleX":-4,"titleY":46,"titleAlign":"right","titleBaseline":"middle","titleAngle":0}}},
    "layer":[
     {"data":{"name":"pausesD"},"mark":{"type":"bar","stroke":"#333","strokeWidth":1},"encoding":{"y":{"field":"v","type":"quantitative","title":"Pauses","scale":{"domain":[0,1000]},"axis":{"values":[0,100,200,300,400,500,600,700,800,900,1000],"format":"d"}},"color":{"field":"g","type":"nominal","scale":{"domain":["N","J","Nn","Jn"],"range":["#29abe2","#ef4136","#d7df23","#92278f"]},"legend":null}}},
     {"data":{"name":"pausesD"},"mark":{"type":"rule","color":"#222"},"encoding":{"y":{"field":"lo","type":"quantitative","title":"Pauses","scale":{"domain":[0,1000]},"axis":{"values":[0,100,200,300,400,500,600,700,800,900,1000],"format":"d"}},"y2":{"field":"hi"}}},
     {"data":{"name":"pausesD"},"mark":{"type":"tick","color":"#222","size":10,"thickness":1},"encoding":{"y":{"field":"lo","type":"quantitative","title":"Pauses","scale":{"domain":[0,1000]},"axis":{"values":[0,100,200,300,400,500,600,700,800,900,1000],"format":"d"}}}},
     {"data":{"name":"pausesD"},"mark":{"type":"tick","color":"#222","size":10,"thickness":1},"encoding":{"y":{"field":"hi","type":"quantitative","title":"Pauses","scale":{"domain":[0,1000]},"axis":{"values":[0,100,200,300,400,500,600,700,800,900,1000],"format":"d"}}}},
     {"data":{"name":"bracketD"},"mark":{"type":"rule","color":"#777","strokeWidth":1},"encoding":{"x2":{"field":"g2"},"y":{"field":"y","type":"quantitative","title":"Pauses","scale":{"domain":[0,1000]},"axis":{"values":[0,100,200,300,400,500,600,700,800,900,1000],"format":"d"}},"y2":{"field":"y2"}}},
     {"data":{"values":[{"g":"Nn","v":958}]},"mark":{"type":"text","text":"*","fontSize":22,"fontWeight":"bold","baseline":"alphabetic"},"encoding":{"y":{"field":"v","type":"quantitative","title":"Pauses","scale":{"domain":[0,1000]},"axis":{"values":[0,100,200,300,400,500,600,700,800,900,1000],"format":"d"}}}}
    ]},
   {"data":{"values":[{}]},"mark":{"type":"text","text":""},
    "encoding":{"x":{"datum":"t","type":"nominal","axis":{"orient":"top","title":"AGA Pauses ≥ 10","labels":false,"ticks":false,"domain":false,"titleFontSize":16,"titlePadding":9}}}},
   {"data":{"values":[{"grp":"a"},{"grp":"b"}]},"mark":{"type":"bar","color":"black"},
    "encoding":{"x":{"field":"grp","type":"nominal","scale":{"domain":["a","b"],"paddingInner":0.35,"paddingOuter":0.2},"axis":{"orient":"bottom","labelExpr":"datum.value=='a'?'B6J':'nmf205⁻/⁻'","labelAngle":0,"labelFontStyle":{"condition":{"test":"datum.value=='b'","value":"italic"},"value":"normal"},"labelPadding":18,"labelFontSize":15,"ticks":false,"domain":false,"title":null}},
     "y":{"datum":-42,"type":"quantitative","title":"Pauses","scale":{"domain":[0,1000]},"axis":{"values":[0,100,200,300,400,500,600,700,800,900,1000],"format":"d"}},"y2":{"datum":-56}}}
  ],
  "resolve":{"scale":{"x":"independent"}}}
 ],
 "bounds":"flush",
 "spacing":59,
 "resolve":{"scale":{"color":"independent"}}},
{"hconcat":[
 {"title":{"text":"E","anchor":"start","frame":"bounds","fontSize":20,"fontWeight":"bold","offset":3},
  "width":400,"height":324,
  "layer":[
   {"layer":[
    {"data":{"name":"tracks"},"mark":{"type":"bar","width":1.2,"color":"#5b79c2"},"encoding":{"x":{"field":"p","type":"quantitative","scale":{"domain":[0,1600],"nice":false},"axis":null},"y":{"field":"a","type":"quantitative","scale":{"domain":[0,6],"range":[47,0],"nice":false},"axis":{"orient":"left","values":[0,2,4,6],"title":null,"tickSize":7}}}},
    {"data":{"values":[{}]},"mark":{"type":"rule","color":"#2d4ea3","strokeWidth":4.5},"encoding":{"x":{"datum":0,"type":"quantitative","scale":{"domain":[0,1600],"nice":false},"axis":null},"x2":{"datum":1600},"y":{"datum":0,"type":"quantitative","scale":{"domain":[0,6],"range":[47,0],"nice":false},"axis":{"orient":"left","values":[0,2,4,6],"title":null,"tickSize":7}}}},
    {"data":{"values":[{}]},"mark":{"type":"text","align":"left","baseline":"middle","fontSize":17,"text":"B6J.B6Nⁿ⁻ᵀʳ²⁰"},"encoding":{"x":{"datum":125,"type":"quantitative","scale":{"domain":[0,1600],"nice":false},"axis":null},"y":{"datum":5.0,"type":"quantitative","scale":{"domain":[0,6],"range":[47,0],"nice":false},"axis":{"orient":"left","values":[0,2,4,6],"title":null,"tickSize":7}}}},
    {"data":{"values":[{}]},"mark":{"type":"text","align":"right","baseline":"middle","fontSize":17,"fontStyle":"italic","text":"Zfp238"},"encoding":{"x":{"datum":1570,"type":"quantitative","scale":{"domain":[0,1600],"nice":false},"axis":null},"y":{"datum":4.8,"type":"quantitative","scale":{"domain":[0,6],"range":[47,0],"nice":false},"axis":{"orient":"left","values":[0,2,4,6],"title":null,"tickSize":7}}}}
   ]},
   {"layer":[
    {"data":{"name":"tracks"},"mark":{"type":"bar","width":1.2,"color":"#5b79c2"},"encoding":{"x":{"field":"p","type":"quantitative","scale":{"domain":[0,1600],"nice":false},"axis":null},"y":{"field":"b","type":"quantitative","scale":{"domain":[0,8],"range":[129,67],"nice":false},"axis":{"orient":"left","values":[0,2,4,6,8],"title":null,"tickSize":7}}}},
    {"data":{"values":[{}]},"mark":{"type":"rule","color":"#2d4ea3","strokeWidth":4.5},"encoding":{"x":{"datum":0,"type":"quantitative","scale":{"domain":[0,1600],"nice":false},"axis":null},"x2":{"datum":1600},"y":{"datum":0,"type":"quantitative","scale":{"domain":[0,8],"range":[129,67],"nice":false},"axis":{"orient":"left","values":[0,2,4,6,8],"title":null,"tickSize":7}}}},
    {"data":{"values":[{}]},"mark":{"type":"text","align":"left","baseline":"middle","fontSize":17,"text":"B6J"},"encoding":{"x":{"datum":125,"type":"quantitative","scale":{"domain":[0,1600],"nice":false},"axis":null},"y":{"datum":6.3,"type":"quantitative","scale":{"domain":[0,8],"range":[129,67],"nice":false},"axis":{"orient":"left","values":[0,2,4,6,8],"title":null,"tickSize":7}}}}
   ]},
   {"layer":[
    {"data":{"name":"tracks"},"mark":{"type":"bar","width":1.2,"color":"#5b79c2"},"encoding":{"x":{"field":"p","type":"quantitative","scale":{"domain":[0,1600],"nice":false},"axis":null},"y":{"field":"c","type":"quantitative","scale":{"domain":[0,8],"range":[212,147],"nice":false},"axis":{"orient":"left","values":[0,2,4,6,8],"title":"Observed / expected reads","titleY":160,"tickSize":7}}}},
    {"data":{"values":[{}]},"mark":{"type":"rule","color":"#2d4ea3","strokeWidth":4.5},"encoding":{"x":{"datum":0,"type":"quantitative","scale":{"domain":[0,1600],"nice":false},"axis":null},"x2":{"datum":1600},"y":{"datum":0,"type":"quantitative","scale":{"domain":[0,8],"range":[212,147],"nice":false},"axis":{"orient":"left","values":[0,2,4,6,8],"title":"Observed / expected reads","titleY":160,"tickSize":7}}}},
    {"data":{"values":[{}]},"mark":{"type":"text","align":"left","baseline":"middle","fontSize":17,"text":"B6J.B6Nⁿ⁻ᵀʳ²⁰;"},"encoding":{"x":{"datum":125,"type":"quantitative","scale":{"domain":[0,1600],"nice":false},"axis":null},"y":{"datum":7.2,"type":"quantitative","scale":{"domain":[0,8],"range":[212,147],"nice":false},"axis":{"orient":"left","values":[0,2,4,6,8],"title":"Observed / expected reads","titleY":160,"tickSize":7}}}},
    {"data":{"values":[{}]},"mark":{"type":"text","align":"left","baseline":"middle","fontSize":17,"fontStyle":"italic","text":"nmf205⁻/⁻"},"encoding":{"x":{"datum":600,"type":"quantitative","scale":{"domain":[0,1600],"nice":false},"axis":null},"y":{"datum":7.2,"type":"quantitative","scale":{"domain":[0,8],"range":[212,147],"nice":false},"axis":{"orient":"left","values":[0,2,4,6,8],"title":"Observed / expected reads","titleY":160,"tickSize":7}}}}
   ]},
   {"layer":[
    {"data":{"name":"tracks"},"mark":{"type":"bar","width":1.2,"color":"#5b79c2"},"encoding":{"x":{"field":"p","type":"quantitative","scale":{"domain":[0,1600],"nice":false},"axis":null},"y":{"field":"d","type":"quantitative","scale":{"domain":[0,12],"range":[324,230],"nice":false},"axis":{"orient":"left","values":[0,2,4,6,8,10,12],"title":null,"tickSize":7}}}},
    {"data":{"values":[{}]},"mark":{"type":"rule","color":"#2d4ea3","strokeWidth":4.5},"encoding":{"x":{"datum":0,"type":"quantitative","scale":{"domain":[0,1600],"nice":false},"axis":null},"x2":{"datum":1600},"y":{"datum":0,"type":"quantitative","scale":{"domain":[0,12],"range":[324,230],"nice":false},"axis":{"orient":"left","values":[0,2,4,6,8,10,12],"title":null,"tickSize":7}}}},
    {"data":{"values":[{}]},"mark":{"type":"text","align":"left","baseline":"middle","fontSize":17,"text":"B6J-"},"encoding":{"x":{"datum":125,"type":"quantitative","scale":{"domain":[0,1600],"nice":false},"axis":null},"y":{"datum":10.2,"type":"quantitative","scale":{"domain":[0,12],"range":[324,230],"nice":false},"axis":{"orient":"left","values":[0,2,4,6,8,10,12],"title":null,"tickSize":7}}}},
    {"data":{"values":[{}]},"mark":{"type":"text","align":"left","baseline":"middle","fontSize":17,"fontStyle":"italic","text":"nmf205⁻/⁻"},"encoding":{"x":{"datum":272,"type":"quantitative","scale":{"domain":[0,1600],"nice":false},"axis":null},"y":{"datum":10.2,"type":"quantitative","scale":{"domain":[0,12],"range":[324,230],"nice":false},"axis":{"orient":"left","values":[0,2,4,6,8,10,12],"title":null,"tickSize":7}}}},
    {"data":{"values":[{}]},"mark":{"type":"text","align":"center","baseline":"alphabetic","fontSize":20,"fontWeight":"bold","text":"*"},"encoding":{"x":{"datum":1478,"type":"quantitative","scale":{"domain":[0,1600],"nice":false},"axis":null},"y":{"datum":10.9,"type":"quantitative","scale":{"domain":[0,12],"range":[324,230],"nice":false},"axis":{"orient":"left","values":[0,2,4,6,8,10,12],"title":null,"tickSize":7}}}},
    {"data":{"values":[{"p":40},{"p":200},{"p":805},{"p":1455},{"p":1530}]},"mark":{"type":"point","shape":"arrow","filled":true,"color":"#e8302a","size":120,"opacity":1},"encoding":{"x":{"field":"p","type":"quantitative","scale":{"domain":[0,1600],"nice":false},"axis":null},"y":{"datum":-1.3,"type":"quantitative","scale":{"domain":[0,12],"range":[324,230],"nice":false},"axis":{"orient":"left","values":[0,2,4,6,8,10,12],"title":null,"tickSize":7}}}},
    {"data":{"values":[{"from":985,"to":1085}]},"mark":{"type":"rule","color":"#222","strokeWidth":1},"encoding":{"x":{"field":"from","type":"quantitative","scale":{"domain":[0,1600],"nice":false},"axis":null},"x2":{"field":"to"},"y":{"datum":-2.5,"type":"quantitative","scale":{"domain":[0,12],"range":[324,230],"nice":false},"axis":{"orient":"left","values":[0,2,4,6,8,10,12],"title":null,"tickSize":7}}}},
    {"data":{"values":[{"from":985,"to":1085}]},"mark":{"type":"rule","color":"#222","strokeWidth":1},"encoding":{"x":{"field":"from","type":"quantitative","scale":{"domain":[0,1600],"nice":false},"axis":null},"y":{"datum":-2.1,"type":"quantitative","scale":{"domain":[0,12],"range":[324,230],"nice":false},"axis":{"orient":"left","values":[0,2,4,6,8,10,12],"title":null,"tickSize":7}},"y2":{"datum":-2.9}}},
    {"data":{"values":[{"from":985,"to":1085}]},"mark":{"type":"rule","color":"#222","strokeWidth":1},"encoding":{"x":{"field":"to","type":"quantitative","scale":{"domain":[0,1600],"nice":false},"axis":null},"y":{"datum":-2.1,"type":"quantitative","scale":{"domain":[0,12],"range":[324,230],"nice":false},"axis":{"orient":"left","values":[0,2,4,6,8,10,12],"title":null,"tickSize":7}},"y2":{"datum":-2.9}}},
    {"data":{"values":[{}]},"mark":{"type":"text","align":"left","baseline":"middle","fontSize":17,"text":"100 bp"},"encoding":{"x":{"datum":1110,"type":"quantitative","scale":{"domain":[0,1600],"nice":false},"axis":null},"y":{"datum":-2.5,"type":"quantitative","scale":{"domain":[0,12],"range":[324,230],"nice":false},"axis":{"orient":"left","values":[0,2,4,6,8,10,12],"title":null,"tickSize":7}}}}
   ]}
  ],
  "resolve":{"scale":{"y":"independent"}}},
 {"title":{"text":"F","anchor":"start","frame":"bounds","fontSize":20,"fontWeight":"bold","offset":8},
  "width":467,"height":287,
  "resolve":{"scale":{"x":"independent"}},
  "layer":[
   {"data":{"name":"fdata"},
    "encoding":{"x":{"field":"pos","type":"nominal","scale":{"domain":["-4","-3","-2","-1","0","1","2"],"paddingInner":0.28,"paddingOuter":0.08},"axis":{"title":null,"ticks":false,"labelFontSize":15,"labelPadding":8,"labelLineHeight":19,"labelAngle":0,"domainColor":"#222","labelExpr":"datum.value=='-2'?['-2','AGA in','E site']:datum.value=='-1'?['-1','AGA in','P site']:datum.value=='0'?['0','AGA in','A site']:datum.value"}},
     "xOffset":{"field":"g","type":"nominal","scale":{"domain":["N","J","Nn","Jn"]}}},
    "layer":[
     {"mark":{"type":"bar","stroke":"#333","strokeWidth":0.8},"encoding":{"y":{"field":"v","type":"quantitative","title":"Observed / expected reads","scale":{"domain":[0,3],"range":[287,31],"nice":false},"axis":{"values":[0,0.5,1,1.5,2,2.5,3],"labelExpr":"datum.value==0?'0':format(datum.value,'.1f')","labelFontSize":14}},
       "color":{"field":"g","type":"nominal","scale":{"domain":["N","J","Nn","Jn"],"range":["#29abe2","#ef4136","#d7df23","#92278f"]},
        "legend":{"orient":"none","legendX":58,"legendY":48,"title":null,"symbolType":"square","symbolSize":70,"labelFontSize":16,"rowPadding":6,"labelExpr":"datum.label=='N'?'B6J.B6Nⁿ⁻ᵀʳ²⁰':datum.label=='J'?'B6J':datum.label=='Nn'?'B6J.B6Nⁿ⁻ᵀʳ²⁰; nmf205⁻/⁻':'B6J-nmf205⁻/⁻'"}}}},
     {"mark":{"type":"rule","color":"#222"},"encoding":{"y":{"field":"lo","type":"quantitative","title":"Observed / expected reads"},"y2":{"field":"hi"}}},
     {"mark":{"type":"tick","color":"#222","size":8,"thickness":1},"encoding":{"y":{"field":"lo","type":"quantitative","title":"Observed / expected reads"}}},
     {"mark":{"type":"tick","color":"#222","size":8,"thickness":1},"encoding":{"y":{"field":"hi","type":"quantitative","title":"Observed / expected reads"}}}
    ]},
   {"data":{"name":"bracketF"},
    "encoding":{"x":{"field":"x","type":"quantitative","scale":{"domain":[0,6.88],"nice":false,"zero":false},"axis":null}},
    "layer":[
     {"transform":[{"filter":"datum.kind=='line'"}],"mark":{"type":"rule","color":"#777","strokeWidth":1},"encoding":{"x2":{"field":"x2"},"y":{"field":"y","type":"quantitative","title":"Observed / expected reads"},"y2":{"field":"y2"}}},
     {"transform":[{"filter":"datum.kind=='star'"}],"mark":{"type":"text","text":"*","fontSize":22,"fontWeight":"bold","baseline":"alphabetic"},"encoding":{"y":{"field":"y","type":"quantitative","title":"Observed / expected reads"}}}
    ]}
  ]}
 ],
 "bounds":"flush",
 "spacing":111,
 "resolve":{"scale":{"color":"independent","xOffset":"independent"}}},
{"title":{"text":"G","anchor":"start","frame":"bounds","fontSize":20,"fontWeight":"bold","offset":-18},
 "width":982,"height":250,
 "view":{"stroke":"#222","strokeWidth":1},
 "layer":[
  {"data":{"name":"gdata"},"transform":[{"filter":"datum.g=='N' && datum.c!='AAA'"}],"mark":{"type":"rule","strokeDash":[4,3],"color":"#444","strokeWidth":1},"encoding":{"x":{"field":"c","type":"nominal","bandPosition":0,"scale":{"type":"band","paddingInner":0,"paddingOuter":0},"axis":{"title":null,"labelAngle":-90,"labelFontSize":13,"ticks":false,"domain":false,"labelPadding":4}}}},
  {"data":{"name":"gdata"},"mark":{"type":"bar"},"encoding":{
    "x":{"field":"c","type":"nominal","scale":{"type":"band","paddingInner":0,"paddingOuter":0},"axis":{"title":null,"labelAngle":-90,"labelFontSize":13,"ticks":false,"domain":false,"labelPadding":4}},
    "xOffset":{"field":"g","type":"nominal","scale":{"domain":["N","J","Nn","Jn"],"paddingOuter":0.05}},
    "y":{"field":"v","type":"quantitative","title":"Difference in codon frequency","scale":{"domain":[-0.05,0.25],"nice":false},"axis":{"values":[-0.05,0,0.05,0.1,0.15,0.2,0.25],"labelExpr":"datum.value==0?'0':replace(format(datum.value,'~g'),'−','-')"}},
    "color":{"field":"g","type":"nominal","scale":{"domain":["N","J","Nn","Jn"],"range":["#29abe2","#ef4136","#d7df23","#92278f"]},
     "legend":{"orient":"none","legendX":754,"legendY":21,"title":null,"strokeColor":"#333","fillColor":"white","padding":14,"symbolType":"square","symbolSize":50,"labelFontSize":16,"rowPadding":6,"labelExpr":"datum.label=='N'?'B6J.B6Nⁿ⁻ᵀʳ²⁰':datum.label=='J'?'B6J':datum.label=='Nn'?'B6J.B6Nⁿ⁻ᵀʳ²⁰; nmf205⁻/⁻':'B6J-nmf205⁻/⁻'"}}}},
  {"data":{"values":[{}]},"mark":{"type":"rule","color":"#111","strokeWidth":1},"encoding":{"y":{"datum":0}}}
 ]}
]
}
